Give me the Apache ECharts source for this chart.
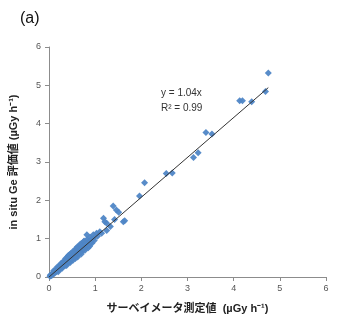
<!DOCTYPE html>
<html>
<head>
<meta charset="utf-8">
<script src="https://cdn.jsdelivr.net/npm/echarts@6/dist/echarts.min.js"></script>
<style>
  html, body { margin: 0; padding: 0; background: #fff; }
  #chart { width: 347px; height: 333px; }
</style>
</head>
<body>
<div id="chart"></div>
<script>
// Survey meter readings (x) vs in-situ Ge evaluated dose rates (y), µGy/h
const surveyX = [
  0.02,0.03,0.04,0.05,0.06,0.07,0.08,0.09,0.10,0.11,0.12,0.13,0.14,0.15,0.16,0.17,0.18,0.19,0.20,
  0.21,0.22,0.23,0.24,0.25,0.26,0.27,0.28,0.29,0.30,0.31,0.32,0.33,0.34,0.35,0.36,0.37,0.38,0.39,
  0.40,0.41,0.42,0.43,0.44,0.45,0.46,0.47,0.48,0.49,0.50,0.52,0.53,0.55,0.56,0.58,0.59,0.60,0.62,
  0.63,0.64,0.66,0.67,0.69,0.70,0.72,0.73,0.75,0.76,0.78,0.80,0.82,0.84,0.86,0.89,0.90,0.92,0.96,
  0.96,0.98,1.03,1.05,1.10,1.14,1.18,1.21,1.25,1.25,1.39,1.46,1.51,1.61,1.64,1.96,2.07,2.54,2.67,
  3.13,3.23,3.40,3.53,4.13,4.19,4.39,4.69,4.75,
  0.15,0.22,0.30,0.35,0.40,0.45,0.50,0.55,0.60,0.65,0.33,0.43,0.53,0.57,0.68,0.74,1.33,1.42,
  0.10,0.18,0.25,0.28,0.32,0.38,0.42,0.46,0.48,0.52,0.58,0.62,0.66,0.70,0.72,0.78,0.82,0.85,0.88,
  0.93,0.20,0.27,0.36,0.44,0.51,0.57,0.61,0.68,0.76,0.80
];
const geY = [
  0.02,0.05,0.03,0.06,0.04,0.08,0.07,0.11,0.09,0.12,0.10,0.15,0.13,0.17,0.14,0.19,0.16,0.22,0.18,
  0.24,0.20,0.26,0.22,0.29,0.23,0.31,0.25,0.33,0.28,0.36,0.30,0.38,0.31,0.41,0.33,0.44,0.36,0.46,
  0.37,0.49,0.40,0.52,0.42,0.55,0.43,0.58,0.45,0.60,0.47,0.63,0.50,0.66,0.53,0.70,0.55,0.67,0.58,
  0.72,0.61,0.75,0.63,0.78,0.66,0.80,0.70,0.92,0.74,0.85,0.77,0.97,0.82,0.93,1.04,0.88,0.98,1.01,
  1.10,0.95,1.14,1.06,1.18,1.14,1.53,1.44,1.40,1.21,1.85,1.75,1.69,1.44,1.47,2.11,2.46,2.70,2.71,
  3.12,3.24,3.77,3.73,4.60,4.60,4.57,4.84,5.32,
  0.20,0.28,0.36,0.30,0.52,0.40,0.60,0.50,0.74,0.60,0.40,0.48,0.60,0.62,0.76,0.82,1.32,1.50,
  0.16,0.26,0.34,0.22,0.42,0.30,0.56,0.38,0.62,0.44,0.74,0.52,0.82,0.60,0.88,0.70,1.10,0.76,0.80,
  0.88,0.14,0.36,0.48,0.58,0.66,0.48,0.78,0.86,0.94,0.86
];
const slope = 1.04;
const equationText = 'y = 1.04x';
const r2Text = 'R\u00B2 = 0.99';
const axisTicks = [0, 1, 2, 3, 4, 5, 6];

const points = surveyX.map((x, i) => [x, geY[i]]);
const xMaxData = Math.max(...surveyX);
const trend = [[0, 0], [xMaxData, slope * xMaxData]];

const labelFont = '"Liberation Sans", "Noto Sans", sans-serif';
const cjkFont = '"Liberation Sans", "Noto Sans CJK JP", sans-serif';
const axisColor = '#8c8c8c';

const chart = echarts.init(document.getElementById('chart'), null, { renderer: 'canvas' });
chart.setOption({
  animation: false,
  backgroundColor: '#ffffff',
  grid: { left: 47, right: 21, top: 47, bottom: 56 },
  xAxis: {
    type: 'value',
    min: axisTicks[0], max: axisTicks[axisTicks.length - 1], interval: 1,
    name: 'サーベイメータ測定値  (\u00B5Gy h\u207B\u00B9)',
    nameLocation: 'middle', nameGap: 26,
    nameTextStyle: { fontFamily: cjkFont, fontSize: 11, fontWeight: 'bold', color: '#222' },
    axisLine: { show: true, onZero: false, lineStyle: { color: axisColor, width: 1 } },
    axisTick: { show: true, inside: false, length: 4, lineStyle: { color: axisColor } },
    axisLabel: { fontFamily: labelFont, fontSize: 9, color: '#555', margin: 7 },
    splitLine: { show: false }
  },
  yAxis: {
    type: 'value',
    min: axisTicks[0], max: axisTicks[axisTicks.length - 1], interval: 1,
    name: 'in situ Ge 評価値 (\u00B5Gy h\u207B\u00B9)',
    nameLocation: 'middle', nameGap: 30, nameRotate: 90,
    nameTextStyle: { fontFamily: cjkFont, fontSize: 11, fontWeight: 'bold', color: '#222' },
    axisLine: { show: true, onZero: false, lineStyle: { color: axisColor, width: 1 } },
    axisTick: { show: true, inside: false, length: 4, lineStyle: { color: axisColor } },
    axisLabel: { fontFamily: labelFont, fontSize: 9, color: '#555', margin: 8 },
    splitLine: { show: false }
  },
  series: [
    {
      type: 'scatter',
      data: points,
      symbol: 'diamond',
      symbolSize: 7,
      itemStyle: { color: '#4f86c6', opacity: 0.95 },
      z: 2
    },
    {
      type: 'line',
      data: trend,
      symbol: 'none',
      lineStyle: { color: '#333333', width: 1 },
      z: 3
    }
  ],
  graphic: [
    { type: 'text', left: 20, top: 11,
      style: { text: '(a)', font: '16px "Liberation Sans", sans-serif', fill: '#111' } },
    { type: 'text', left: 161, top: 88,
      style: { text: equationText, font: '10px "Liberation Sans", sans-serif', fill: '#333' } },
    { type: 'text', left: 161, top: 103,
      style: { text: r2Text, font: '10px "Liberation Sans", sans-serif', fill: '#333' } }
  ]
});
</script>
</body>
</html>
